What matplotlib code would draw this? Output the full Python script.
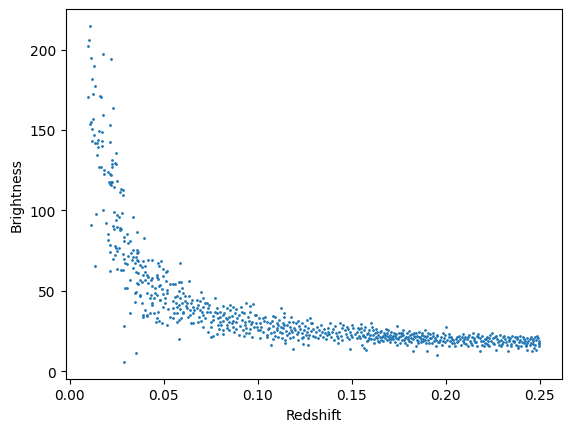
import numpy as np
import matplotlib
matplotlib.use('Agg')
import matplotlib.pyplot as plt

# steep part, redshift < 0.035
z_near = [0.0109, 0.0104, 0.0098, 0.0178, 0.0114, 0.0221, 0.0130, 0.0120, 0.0136, 0.0125,
          0.0098, 0.0162, 0.0168, 0.0232, 0.0178, 0.0125, 0.0114, 0.0109, 0.0216,
          0.0120, 0.0157, 0.0173, 0.0130, 0.0120, 0.0152, 0.0136, 0.0146, 0.0173, 0.0216,
          0.0152, 0.0173, 0.0247, 0.0146, 0.0226, 0.0242, 0.0247, 0.0226, 0.0226, 0.0157,
          0.0168, 0.0184, 0.0205, 0.0216, 0.0221, 0.0184, 0.0253, 0.0210, 0.0221, 0.0226,
          0.0216, 0.0221, 0.0237, 0.0274, 0.0285, 0.0269, 0.0285, 0.0178, 0.0141, 0.0237,
          0.0279, 0.0253, 0.0338, 0.0247, 0.0194, 0.0114, 0.0232, 0.0253, 0.0269, 0.0237,
          0.0274,
          0.0134, 0.0214, 0.0290, 0.0290, 0.0320, 0.0296, 0.0306, 0.0320, 0.0336, 0.0303,
          0.0329, 0.0311, 0.0326, 0.0338, 0.0347, 0.0260, 0.0205, 0.0214, 0.0205, 0.0214,
          0.0232, 0.0242, 0.0253, 0.0246, 0.0242, 0.0263, 0.0290, 0.0290, 0.0311, 0.0320,
          0.0306, 0.0267, 0.0285, 0.0288, 0.0296, 0.0253, 0.0274, 0.0285, 0.0335]
b_near = [214.7, 206.0, 202.3, 197.3, 194.8, 194.2, 189.8, 181.8, 177.4, 172.4,
          170.6, 171.4, 170.6, 163.7, 159.4, 156.9, 155.0, 153.8, 153.3,
          150.6, 149.4, 148.8, 146.9, 143.2, 143.8, 141.9, 141.9, 143.2, 142.6,
          139.4, 140.0, 135.7, 134.5, 131.3, 129.4, 129.0, 128.8, 127.0, 127.0,
          127.0, 125.1, 123.9, 122.6, 122.0, 122.6, 118.3, 117.7, 117.7, 117.7,
          116.4, 115.8, 114.5, 113.3, 112.7, 111.4, 109.5, 100.2, 97.7, 99.0,
          98.3, 97.1, 95.8, 94.0, 92.0, 90.8, 90.1, 89.5, 88.9, 88.3,
          88.3,
          65.4, 62.5, 28.2, 5.8, 36.1, 51.7, 51.7, 57.0, 64.1, 66.6,
          69.0, 71.8, 73.5, 71.0, 67.3, 95.9, 85.5, 78.6, 81.8, 73.9,
          69.7, 72.4, 74.5, 76.6, 77.7, 76.6, 83.5, 80.8, 79.8, 80.8,
          85.3, 88.0, 72.9, 69.7, 67.2, 63.5, 63.1, 63.1, 75.5]

# bend, 0.035 - 0.053
z_bend = [0.0354, 0.0349, 0.0354, 0.0375, 0.0391, 0.0391, 0.0412, 0.0428, 0.0459, 0.0476,
          0.0466, 0.0354, 0.0359, 0.0375, 0.0400, 0.0391, 0.0402, 0.0412, 0.0434, 0.0434,
          0.0437, 0.0450, 0.0455, 0.0466, 0.0471, 0.0476, 0.0476, 0.0478, 0.0471, 0.0356,
          0.0365, 0.0374, 0.0418, 0.0397, 0.0356, 0.0359, 0.0359, 0.0352,
          0.0487, 0.0494, 0.0519, 0.0512, 0.0498, 0.0512, 0.0480, 0.0491, 0.0516, 0.0498,
          0.0516, 0.0480, 0.0505, 0.0491, 0.0519, 0.0505, 0.0495, 0.0520,
          0.0361, 0.0391, 0.0436, 0.0468, 0.0400, 0.0382, 0.0365, 0.0418, 0.0436, 0.0462,
          0.0382, 0.0365, 0.0418, 0.0436, 0.0453, 0.0347, 0.0373, 0.0409, 0.0427, 0.0462,
          0.0386, 0.0436, 0.0400, 0.0450, 0.0409]
b_bend = [11.4, 43.0, 49.2, 47.5, 35.1, 33.7, 35.1, 36.1, 30.5, 31.2,
          33.0, 62.0, 54.7, 56.8, 65.2, 59.9, 56.8, 59.9, 56.8, 47.5,
          42.3, 45.4, 48.5, 58.9, 57.5, 52.7, 65.2, 44.6, 37.1, 69.4,
          68.4, 66.3, 69.0, 82.9, 86.5, 75.5, 73.5, 71.0,
          68.7, 63.5, 62.3, 61.5, 59.0, 55.9, 53.8, 51.1, 50.7, 48.2,
          48.6, 44.4, 45.5, 29.9, 28.9, 42.5, 40.0, 38.5,
          73.9, 68.3, 69.3, 67.2, 62.0, 65.1, 61.0, 58.9, 57.9, 60.0,
          55.8, 54.4, 54.8, 52.7, 51.7, 48.6, 46.5, 48.6, 45.4, 47.5,
          42.7, 41.3, 38.2, 36.1, 34.4]

# 0.053 - 0.101
z_mid = [0.0586, 0.0533, 0.0547, 0.0558, 0.0583, 0.0590, 0.0636, 0.0597, 0.0583, 0.0604,
         0.0558, 0.0568, 0.0586, 0.0613, 0.0632, 0.0700, 0.0774, 0.0551, 0.0565, 0.0579,
         0.0597, 0.0611, 0.0625, 0.0643, 0.0675, 0.0693, 0.0710, 0.0717, 0.0731, 0.0742,
         0.0547, 0.0568, 0.0586, 0.0604, 0.0622, 0.0639, 0.0657, 0.0675, 0.0693, 0.0710,
         0.0728, 0.0781, 0.0799, 0.0816, 0.0834, 0.0855, 0.0869, 0.0887, 0.0912, 0.0940,
         0.0961, 0.0976, 0.0533, 0.0547, 0.0572, 0.0604, 0.0639, 0.0657, 0.0689, 0.0710,
         0.0745, 0.0760, 0.0781, 0.0799, 0.0816, 0.0830, 0.0845, 0.0862, 0.0880, 0.0898,
         0.0926, 0.0958, 0.0993, 0.1007, 0.0568, 0.0579, 0.0646, 0.0657, 0.0684, 0.0710,
         0.0749, 0.0763, 0.0799, 0.0816, 0.0834, 0.0845, 0.0862, 0.0887, 0.0914, 0.0933,
         0.0951, 0.0972, 0.0990, 0.0795, 0.0816, 0.0834, 0.0848, 0.0869, 0.0887, 0.0922,
         0.0940, 0.0958, 0.0979, 0.1004, 0.0763, 0.0749, 0.0784, 0.0926, 0.0940, 0.0972,
         0.0583,
         0.0555, 0.0592, 0.0618, 0.0628, 0.0650, 0.0662, 0.0680, 0.0698, 0.0705, 0.0722,
         0.0735, 0.0752, 0.0770, 0.0788, 0.0790, 0.0738,
         0.0805, 0.0822, 0.0838, 0.0851, 0.0866, 0.0873, 0.0892, 0.0905, 0.0918, 0.0931,
         0.0946, 0.0963, 0.0984, 0.0997, 0.0815, 0.0902, 0.0955]
b_mid = [67.2, 54.1, 54.1, 54.1, 55.8, 55.8, 56.4, 51.6, 49.6, 48.5,
         46.1, 46.5, 45.4, 46.5, 46.5, 49.2, 45.4, 43.4, 42.3, 41.3,
         42.7, 43.4, 42.3, 42.7, 44.4, 43.4, 45.4, 42.3, 42.3, 41.3,
         39.2, 40.2, 38.6, 37.1, 39.2, 38.2, 40.2, 39.2, 38.2, 39.8,
         37.1, 39.2, 37.1, 40.7, 39.2, 41.3, 40.2, 38.6, 40.2, 42.3,
         40.7, 41.9, 34.0, 33.0, 36.5, 36.1, 35.1, 36.1, 34.0, 35.1,
         37.1, 34.4, 36.1, 34.0, 35.1, 33.0, 34.0, 34.4, 36.1, 35.1,
         36.1, 37.1, 35.1, 33.0, 30.9, 31.9, 30.3, 30.3, 30.9, 27.4,
         30.9, 31.9, 30.9, 31.5, 32.4, 30.9, 30.3, 30.9, 31.9, 30.9,
         31.5, 30.9, 30.3, 26.1, 25.7, 26.8, 25.7, 27.4, 26.1, 25.7,
         26.8, 26.1, 27.4, 25.7, 22.0, 21.2, 23.2, 22.0, 23.6, 21.6,
         19.9,
         36.0, 33.0, 40.5, 33.5, 44.5, 37.8, 41.5, 31.5, 37.0, 33.2,
         39.5, 27.8, 36.8, 33.0, 28.5, 24.5,
         28.5, 36.5, 29.0, 37.8, 31.0, 24.5, 32.8, 28.0, 37.0, 28.8,
         33.9, 29.2, 34.8, 27.6, 23.0, 22.5, 24.0]

# 0.101 - 0.154
z_tail = [0.1126, 0.1140, 0.1140, 0.1083, 0.1094, 0.1179, 0.1026, 0.1037, 0.1012, 0.1047,
          0.1065, 0.1079, 0.1101, 0.1110, 0.1122, 0.1133, 0.1154, 0.1172, 0.1189, 0.1204,
          0.1221, 0.1234, 0.1260, 0.1278, 0.1282, 0.1012, 0.1030, 0.1056, 0.1069, 0.1087,
          0.1101, 0.1118, 0.1136, 0.1150, 0.1165, 0.1182, 0.1198, 0.1216, 0.1234, 0.1246,
          0.1260, 0.1275, 0.1296, 0.1310, 0.1328, 0.1342, 0.1358, 0.1376, 0.1385, 0.1402,
          0.1416, 0.1438, 0.1447, 0.1464, 0.1477, 0.1491, 0.1509, 0.1526, 0.1541, 0.1012,
          0.1047, 0.1083, 0.1110, 0.1127, 0.1145, 0.1172, 0.1189, 0.1216, 0.1243, 0.1269,
          0.1296, 0.1322, 0.1349, 0.1367, 0.1388, 0.1406, 0.1429, 0.1447, 0.1473, 0.1487,
          0.1500, 0.1526, 0.1069, 0.1145, 0.1186, 0.1239, 0.1269, 0.1429, 0.1491,
          0.1018, 0.1033, 0.1051, 0.1062, 0.1074, 0.1090, 0.1105, 0.1115, 0.1128, 0.1138,
          0.1158, 0.1168, 0.1178, 0.1193, 0.1208, 0.1212, 0.1226, 0.1238, 0.1250, 0.1255,
          0.1265, 0.1285, 0.1290, 0.1303, 0.1316, 0.1333, 0.1338, 0.1352, 0.1362, 0.1372,
          0.1380, 0.1395, 0.1410, 0.1420, 0.1434, 0.1442, 0.1455, 0.1468, 0.1482, 0.1495,
          0.1504, 0.1515, 0.1532, 0.1538]
b_tail = [39.2, 36.1, 34.0, 34.4, 34.0, 33.6, 33.0, 33.6, 29.9, 30.9,
          29.9, 28.2, 30.3, 28.8, 27.8, 29.9, 28.8, 27.8, 30.9, 29.9,
          28.2, 29.9, 31.9, 33.0, 29.9, 25.7, 24.7, 26.1, 23.6, 24.7,
          25.7, 24.1, 26.7, 25.3, 23.6, 24.7, 25.7, 24.7, 23.6, 25.7,
          24.1, 22.6, 26.1, 24.7, 25.7, 24.1, 23.6, 24.7, 29.9, 26.1,
          23.6, 29.9, 26.7, 25.7, 27.8, 24.7, 26.7, 24.7, 26.1, 20.5,
          21.6, 19.9, 21.6, 20.5, 19.5, 20.5, 21.6, 19.5, 21.6, 20.5,
          22.0, 20.5, 21.6, 22.6, 21.1, 19.5, 20.5, 19.5, 21.6, 19.9,
          21.6, 20.5, 16.4, 17.4, 13.7, 17.0, 16.4, 17.4, 13.7,
          27.5, 31.2, 22.8, 27.0, 31.5, 22.0, 26.8, 32.0, 23.5, 28.5,
          22.4, 30.5, 25.8, 27.0, 23.0, 31.2, 26.5, 20.8, 28.0, 22.5,
          27.2, 25.0, 30.2, 21.0, 27.5, 22.3, 29.0, 26.0, 19.8, 27.0,
          23.0, 24.5, 28.0, 21.8, 24.6, 22.0, 28.5, 23.2, 26.0, 22.5,
          28.5, 23.0, 27.0, 21.8]

# 0.154 - 0.192
z_far = [0.1545, 0.1548, 0.1552, 0.1552, 0.1555, 0.1566, 0.1566, 0.1571, 0.1576, 0.1580,
         0.1584, 0.1589, 0.1598, 0.1605, 0.1608, 0.1612, 0.1619, 0.1624, 0.1630, 0.1637,
         0.1642, 0.1644, 0.1651, 0.1660, 0.1669, 0.1678, 0.1686, 0.1686, 0.1695, 0.1697,
         0.1704, 0.1704, 0.1713, 0.1722, 0.1725, 0.1736, 0.1740, 0.1743, 0.1749, 0.1757,
         0.1766, 0.1772, 0.1775, 0.1784, 0.1793, 0.1793, 0.1802, 0.1807, 0.1814, 0.1820,
         0.1825, 0.1832, 0.1837, 0.1843, 0.1846, 0.1855, 0.1860, 0.1867, 0.1873, 0.1878,
         0.1885, 0.1889, 0.1896, 0.1899, 0.1908, 0.1914,
         0.1562, 0.1594, 0.1616, 0.1633, 0.1655, 0.1672, 0.1690, 0.1708, 0.1731, 0.1754,
         0.1761, 0.1779, 0.1789, 0.1811, 0.1828, 0.1850, 0.1864, 0.1881, 0.1903,
         0.1558, 0.1570, 0.1581, 0.1592, 0.1602, 0.1615, 0.1627, 0.1639, 0.1648, 0.1658,
         0.1665, 0.1675, 0.1683, 0.1700, 0.1710, 0.1718, 0.1728, 0.1738, 0.1746, 0.1760,
         0.1770, 0.1782, 0.1797, 0.1805, 0.1818, 0.1830, 0.1841, 0.1852, 0.1858, 0.1870,
         0.1876, 0.1888, 0.1893, 0.1905, 0.1912]
b_far = [20.6, 24.7, 29.5, 26.8, 16.4, 25.8, 14.4, 21.6, 13.3, 18.5,
         23.7, 19.6, 22.7, 29.9, 27.5, 25.4, 17.5, 23.7, 21.6, 20.6,
         22.7, 17.9, 24.1, 21.6, 22.1, 20.6, 23.7, 19.2, 25.8, 21.2,
         22.7, 17.9, 21.6, 20.0, 23.7, 20.6, 16.4, 28.3, 23.7, 17.5,
         19.2, 25.8, 22.7, 20.6, 23.7, 16.4, 21.6, 18.5, 20.6, 23.3,
         12.9, 23.7, 21.2, 15.8, 19.6, 17.5, 24.7, 20.0, 22.7, 18.5,
         22.1, 25.4, 17.5, 12.3, 19.6, 20.6,
         22.7, 20.6, 20.0, 24.1, 19.6, 23.7, 22.1, 20.0, 22.1, 21.2,
         23.7, 19.6, 21.6, 22.7, 20.0, 22.1, 21.2, 20.0, 22.1,
         22.0, 27.8, 23.0, 25.5, 20.0, 22.5, 26.5, 18.5, 21.5, 25.0,
         19.0, 22.8, 26.0, 19.8, 24.5, 22.0, 18.2, 23.0, 20.2, 21.8,
         24.0, 17.8, 20.0, 24.8, 18.0, 21.8, 23.5, 19.0, 21.5, 18.0,
         24.0, 19.2, 21.0, 23.8, 17.5]

# 0.192 - 0.25
z_end = [0.2002, 0.1917, 0.1931, 0.1944, 0.1956, 0.1970, 0.1988, 0.1997, 0.2015, 0.2027,
         0.2041, 0.2055, 0.2073, 0.2086, 0.2094, 0.2112, 0.2126, 0.2139, 0.2151, 0.2165,
         0.2174, 0.2183, 0.2197, 0.2210, 0.2222, 0.2236, 0.2247, 0.2263, 0.2275, 0.2290,
         0.2304, 0.2316, 0.2329, 0.2343, 0.2357, 0.2369, 0.2382, 0.2396, 0.2410, 0.2423,
         0.2435, 0.2449, 0.2463, 0.2476, 0.2485, 0.2494, 0.2497,
         0.1926, 0.1949, 0.1961, 0.1979, 0.1997, 0.2020, 0.2032, 0.2050, 0.2062, 0.2080,
         0.2098, 0.2121, 0.2133, 0.2156, 0.2169, 0.2180, 0.2192, 0.2204, 0.2219, 0.2233,
         0.2254, 0.2265, 0.2281, 0.2293, 0.2307, 0.2325, 0.2329, 0.2346, 0.2361, 0.2375,
         0.2387, 0.2400, 0.2414, 0.2428, 0.2435, 0.2449, 0.2458, 0.2470, 0.2481, 0.2494,
         0.1956, 0.1949, 0.2023, 0.2103, 0.2144, 0.2227, 0.2286, 0.2339, 0.2392, 0.2431,
         0.2467,
         0.1922, 0.1935, 0.1940, 0.1952, 0.1965, 0.1975, 0.1984, 0.1993,
         0.2008, 0.2018, 0.2035, 0.2045, 0.2060, 0.2068, 0.2078, 0.2090, 0.2100, 0.2108,
         0.2117, 0.2130, 0.2142, 0.2148, 0.2160, 0.2170, 0.2188, 0.2195, 0.2207, 0.2215,
         0.2225, 0.2230, 0.2242, 0.2250, 0.2258, 0.2270, 0.2278, 0.2296, 0.2300, 0.2312,
         0.2320, 0.2335, 0.2350, 0.2355, 0.2365, 0.2378, 0.2385, 0.2395, 0.2405, 0.2418,
         0.2425, 0.2440, 0.2452, 0.2455, 0.2465, 0.2473, 0.2480, 0.2490, 0.2496]
b_end = [27.4, 23.2, 22.0, 20.5, 22.0, 19.5, 23.7, 22.6, 21.2, 21.6,
         19.5, 19.9, 22.0, 21.2, 18.5, 19.9, 22.6, 21.2, 19.5, 22.0,
         23.2, 20.5, 18.5, 19.9, 21.6, 22.8, 23.7, 21.6, 19.9, 22.8,
         21.2, 19.9, 21.6, 20.5, 19.1, 21.2, 19.9, 22.0, 21.2, 19.1,
         20.5, 19.9, 18.5, 21.2, 22.0, 17.4, 18.5,
         17.4, 15.8, 17.9, 16.4, 17.9, 15.8, 17.4, 15.4, 17.9, 16.4,
         17.4, 15.8, 17.4, 17.9, 15.4, 12.9, 16.4, 15.4, 17.0, 15.8,
         17.4, 13.3, 16.4, 15.4, 17.9, 16.4, 12.3, 15.4, 17.9, 16.4,
         14.3, 15.8, 17.4, 15.4, 13.3, 16.4, 12.3, 14.3, 13.3, 15.8,
         10.2, 19.5, 19.1, 21.2, 23.7, 18.5, 18.5, 18.5, 17.9, 17.4,
         17.0,
         20.8, 24.0, 18.8, 22.8, 18.0, 21.0, 19.0, 20.5,
         19.2, 23.0, 20.0, 17.8, 21.5, 18.5, 19.8, 23.2, 20.0, 16.8,
         21.5, 19.0, 16.5, 20.5, 18.2, 21.0, 18.8, 21.8, 17.8, 20.2,
         16.2, 20.8, 18.5, 20.5, 16.8, 21.8, 18.0, 19.5, 17.0, 22.0,
         18.0, 19.2, 17.2, 22.2, 18.5, 21.0, 16.0, 19.5, 18.0, 20.2,
         16.6, 18.8, 21.5, 17.5, 20.0, 16.2, 19.2, 20.8, 16.8]

redshift = np.concatenate([z_near, z_bend, z_mid, z_tail, z_far, z_end])
brightness = np.concatenate([b_near, b_bend, b_mid, b_tail, b_far, b_end])

fig, ax = plt.subplots()
ax.scatter(redshift, brightness, s=1)
ax.set_xlabel('Redshift')
ax.set_ylabel('Brightness')
fig.savefig('out.png', bbox_inches='tight')
